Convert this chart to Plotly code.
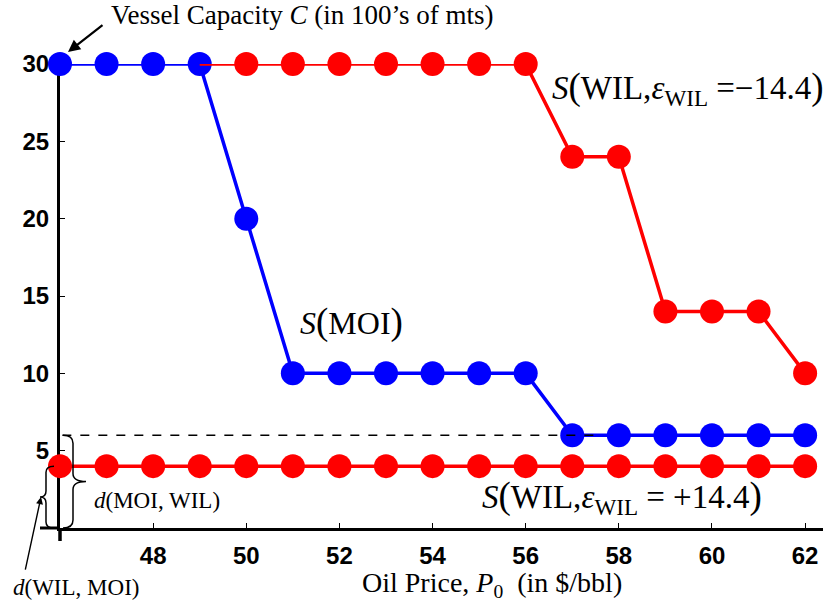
import plotly.graph_objects as go

# ---- data -------------------------------------------------------------
price = [46, 47, 48, 49, 50, 51, 52, 53, 54, 55, 56, 57, 58, 59, 60, 61, 62]
s_moi = [30, 30, 30, 30, 20, 10, 10, 10, 10, 10, 10, 6, 6, 6, 6, 6, 6]

price_wil_neg = [49, 50, 51, 52, 53, 54, 55, 56, 57, 58, 59, 60, 61, 62]
s_wil_neg = [30, 30, 30, 30, 30, 30, 30, 30, 24, 24, 14, 14, 14, 10]

s_wil_pos = [4, 4, 4, 4, 4, 4, 4, 4, 4, 4, 4, 4, 4, 4, 4, 4, 4]

x_ticks = [48, 50, 52, 54, 56, 58, 60, 62]
y_ticks = [5, 10, 15, 20, 25, 30]

vessel_capacity = 30
d_moi_wil = min(s_moi)        # gap closed by MOI's lowest shipment
d_wil_moi = min(s_wil_pos)    # gap closed by WIL's lowest shipment
dash_end = 57.6

# ---- geometry ---------------------------------------------------------
W, H = 830, 609
ML, MR, MT, MB = 60, 7, 64, 81
PW, PH = W - ML - MR, H - MT - MB
X0, X1 = 46, 46 + PW / 46.57
Y0, Y1 = 0, 30

BLUE = "rgb(0,0,255)"
RED = "rgb(255,0,0)"
SERIF = "Liberation Serif, Times New Roman, serif"
SANS = "Liberation Sans, Arial, sans-serif"


def px_x(px):
    return (px - ML) / PW


def px_y(py):
    return (H - MB - py) / PH


def data_py(y):
    return H - MB - (y - Y0) / (Y1 - Y0) * PH


fig = go.Figure()

fig.add_trace(go.Scatter(
    x=price, y=s_wil_pos, mode="lines+markers", cliponaxis=False,
    line=dict(color=RED, width=3.5), marker=dict(color=RED, size=24),
))
fig.add_trace(go.Scatter(
    x=price, y=s_moi, mode="lines+markers", cliponaxis=False,
    line=dict(color=BLUE, width=3.5), marker=dict(color=BLUE, size=24),
))
fig.add_trace(go.Scatter(
    x=price_wil_neg, y=s_wil_neg, mode="lines+markers", cliponaxis=False,
    line=dict(color=RED, width=3.5),
    marker=dict(color=RED, size=24,
                opacity=[0] + [1] * (len(price_wil_neg) - 1)),
))

shapes = []
# axis extensions past the crossing point
shapes.append(dict(type="line", xref="paper", yref="paper",
                   x0=px_x(40), x1=0, y0=0, y1=0,
                   line=dict(color="black", width=3), layer="below"))
shapes.append(dict(type="line", xref="paper", yref="paper",
                   x0=0, x1=0, y0=px_y(541), y1=0,
                   line=dict(color="black", width=3.5), layer="below"))
# dashed level of MOI's minimum shipment
shapes.append(dict(type="line", xref="x", yref="y",
                   x0=46.05, x1=dash_end, y0=d_moi_wil, y1=d_moi_wil,
                   line=dict(color="black", width=1.5, dash="dash"),
                   layer="above"))


def brace_path(x_end, x_body, x_tip, top, bot):
    mid = (top + bot) / 2
    r = 8 if x_tip > x_body else 6
    pts = [
        ("M", [(x_end, top)]),
        ("Q", [(x_body, top), (x_body, top + r)]),
        ("L", [(x_body, mid - r)]),
        ("Q", [(x_body, mid), (x_tip, mid)]),
        ("Q", [(x_body, mid), (x_body, mid + r)]),
        ("L", [(x_body, bot - r)]),
        ("Q", [(x_body, bot), (x_end, bot)]),
    ]
    out = []
    for cmd, ps in pts:
        out.append(cmd + " ".join(f"{px_x(a):.5f},{px_y(b):.5f}" for a, b in ps))
    return " ".join(out)


# right brace: d(MOI, WIL)
shapes.append(dict(type="path", xref="paper", yref="paper",
                   path=brace_path(63, 73, 86, data_py(d_moi_wil), data_py(0)),
                   line=dict(color="black", width=1.5)))
# left brace: d(WIL, MOI)
shapes.append(dict(type="path", xref="paper", yref="paper",
                   path=brace_path(54, 46, 40, data_py(d_wil_moi), data_py(0)),
                   line=dict(color="black", width=1.5)))

annotations = []


def label(text, x, y, size=32, xanchor="left"):
    annotations.append(dict(
        text=text, xref="paper", yref="paper", x=px_x(x), y=px_y(y),
        xanchor=xanchor, yanchor="middle", showarrow=False,
        font=dict(family=SERIF, size=size, color="black"),
    ))


big_l = "<span style='font-size:37px'>(</span>"
big_r = "<span style='font-size:37px'>)</span>"
label(f"<i>S</i>{big_l}MOI{big_r}", 298, 322)
label(f"<i>S</i>{big_l}WIL,<i>ε</i><sub>WIL</sub> =−14.4{big_r}", 550, 88, size=33)
label(f"<i>S</i>{big_l}WIL,<i>ε</i><sub>WIL</sub> = +14.4{big_r}", 480, 497, size=33)
label("<i>d</i>(MOI, WIL)", 92, 500, size=23)
label("<i>d</i>(WIL, MOI)", 11, 587, size=23)
label("Vessel Capacity <i>C</i> (in 100’s of mts)", 109, 15, size=27)
label("Oil Price, <i>P</i><sub>0</sub>  (in $/bbl)", 492, 584, size=28,
      xanchor="center")

# arrows
annotations.append(dict(
    text="", xref="x", yref="y", x=46, y=vessel_capacity,
    xshift=8, yshift=12, ax=36, ay=-28, showarrow=True,
    arrowhead=2, arrowsize=1.1, arrowwidth=2.2, arrowcolor="black",
))
annotations.append(dict(
    text="", xref="paper", yref="paper", x=px_x(41), y=px_y(data_py(2)),
    ax=-16, ay=74, showarrow=True,
    arrowhead=2, arrowsize=1, arrowwidth=1.4, arrowcolor="black",
))

axis_common = dict(
    showline=True, linecolor="black", linewidth=3, mirror=False,
    ticks="inside", ticklen=5, tickwidth=1, tickcolor="black",
    showgrid=False, zeroline=False, layer="below traces",
    tickfont=dict(family=SANS, size=24, color="black", weight="bold"),
)

fig.update_layout(
    width=W, height=H,
    margin=dict(l=ML, r=MR, t=MT, b=MB, pad=0),
    plot_bgcolor="white", paper_bgcolor="white",
    showlegend=False,
    xaxis=dict(range=[X0, X1], tickvals=x_ticks, ticklabelstandoff=4,
               **axis_common),
    yaxis=dict(range=[Y0, Y1], tickvals=y_ticks, ticklabelstandoff=3,
               **axis_common),
    shapes=shapes,
    annotations=annotations,
)

fig.write_html("out.html")
